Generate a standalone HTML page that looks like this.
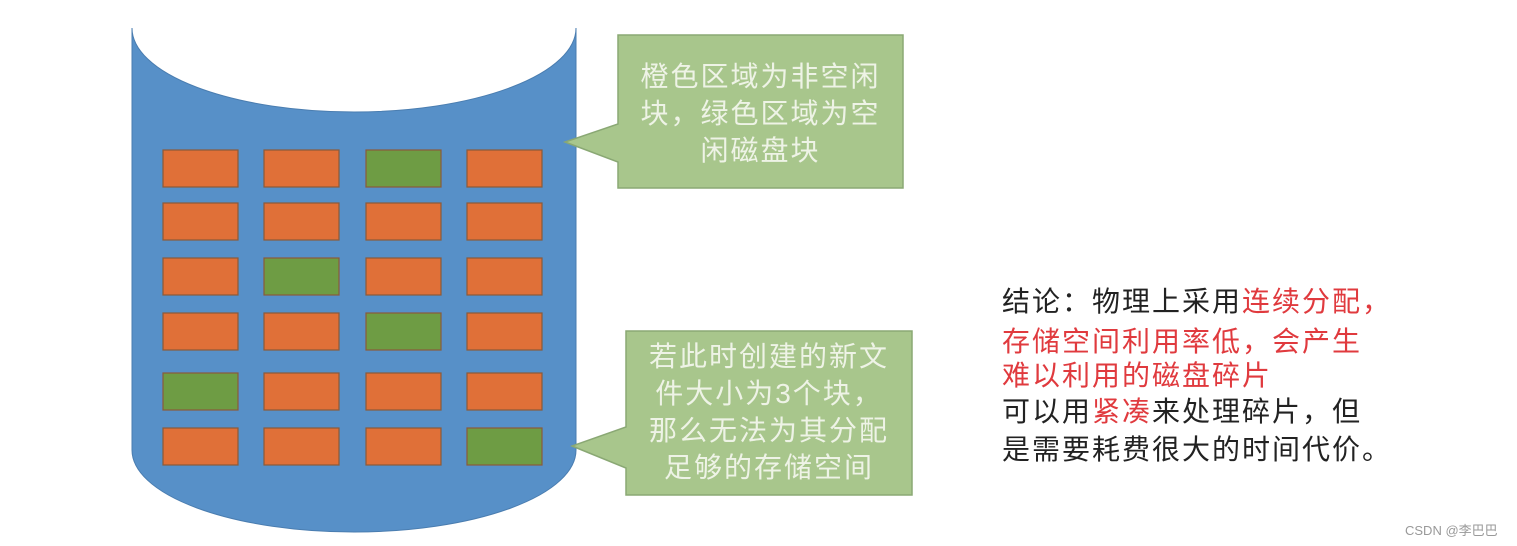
<!DOCTYPE html>
<html><head><meta charset="utf-8"><style>
body{margin:0;width:1517px;height:546px;background:#fff;position:relative;overflow:hidden;font-family:"Liberation Sans","Noto Sans CJK SC",sans-serif}
.t{position:absolute;white-space:nowrap;font-size:28px;line-height:28px;letter-spacing:2px}
.c{color:#eef3e6;font-size:28px;line-height:37px;position:absolute;text-align:center;letter-spacing:2px}
.r{color:#e03a3e}
</style></head><body>
<svg width="1517" height="546" style="position:absolute;left:0;top:0">
<path d="M132,28 L132,450 A222,82 0 0 0 576,450 L576,28 A222,84 0 0 1 132,28 Z" fill="#5790c8" stroke="#4a7db0" stroke-width="1"/>
<g stroke="#8a5a3a" stroke-width="1.2">
<rect x="163" y="150" width="75" height="37" fill="#e07038"/><rect x="264" y="150" width="75" height="37" fill="#e07038"/><rect x="366" y="150" width="75" height="37" fill="#6e9c44"/><rect x="467" y="150" width="75" height="37" fill="#e07038"/>
<rect x="163" y="203" width="75" height="37" fill="#e07038"/><rect x="264" y="203" width="75" height="37" fill="#e07038"/><rect x="366" y="203" width="75" height="37" fill="#e07038"/><rect x="467" y="203" width="75" height="37" fill="#e07038"/>
<rect x="163" y="258" width="75" height="37" fill="#e07038"/><rect x="264" y="258" width="75" height="37" fill="#6e9c44"/><rect x="366" y="258" width="75" height="37" fill="#e07038"/><rect x="467" y="258" width="75" height="37" fill="#e07038"/>
<rect x="163" y="313" width="75" height="37" fill="#e07038"/><rect x="264" y="313" width="75" height="37" fill="#e07038"/><rect x="366" y="313" width="75" height="37" fill="#6e9c44"/><rect x="467" y="313" width="75" height="37" fill="#e07038"/>
<rect x="163" y="373" width="75" height="37" fill="#6e9c44"/><rect x="264" y="373" width="75" height="37" fill="#e07038"/><rect x="366" y="373" width="75" height="37" fill="#e07038"/><rect x="467" y="373" width="75" height="37" fill="#e07038"/>
<rect x="163" y="428" width="75" height="37" fill="#e07038"/><rect x="264" y="428" width="75" height="37" fill="#e07038"/><rect x="366" y="428" width="75" height="37" fill="#e07038"/><rect x="467" y="428" width="75" height="37" fill="#6e9c44"/>
</g>
<path d="M618,35 L903,35 L903,188 L618,188 L618,162 L565,142 L618,124 Z" fill="#a8c68c" stroke="#8aa874" stroke-width="1.5"/>
<path d="M626,331 L912,331 L912,495 L626,495 L626,468 L572,446 L626,427 Z" fill="#a8c68c" stroke="#8aa874" stroke-width="1.5"/>
</svg>
<div class="c" style="left:618px;top:58px;width:285px">橙色区域为非空闲<br>块，绿色区域为空<br>闲磁盘块</div>
<div class="c" style="left:626px;top:338px;width:286px">若此时创建的新文<br>件大小为3个块，<br>那么无法为其分配<br>足够的存储空间</div>
<div class="t" style="left:1002px;top:288px;color:#222">结论：物理上采用<span class="r">连续分配，</span></div>
<div class="t r" style="left:1002px;top:328px">存储空间利用率低，会产生</div>
<div class="t r" style="left:1002px;top:362px">难以利用的磁盘碎片</div>
<div class="t" style="left:1002px;top:398px;color:#222">可以用<span class="r">紧凑</span>来处理碎片，但</div>
<div class="t" style="left:1002px;top:436px;color:#222">是需要耗费很大的时间代价。</div>
<div style="position:absolute;left:1405px;top:520px;font-size:13px;color:#999">CSDN @李巴巴</div>
</body></html>
